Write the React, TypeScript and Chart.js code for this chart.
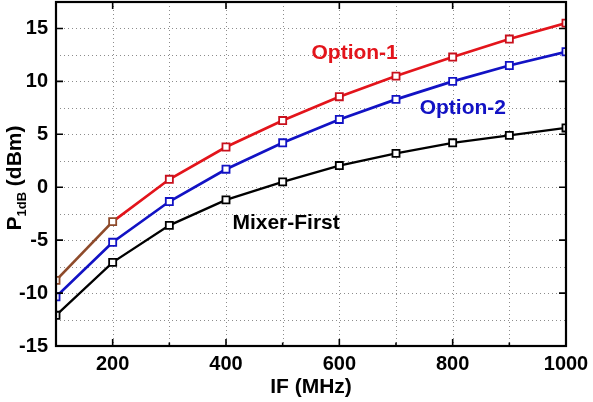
import { useEffect, useRef } from 'react';
import { Chart, registerables } from 'chart.js';

Chart.register(...registerables);

const frequencies = [100, 200, 300, 400, 500, 600, 700, 800, 900, 1000];
const option1 = [-8.8, -3.25, 0.75, 3.8, 6.3, 8.55, 10.5, 12.3, 14.0, 15.5];
const option2 = [-10.35, -5.2, -1.35, 1.7, 4.2, 6.4, 8.3, 10.0, 11.5, 12.8];
const mixerFirst = [-12.1, -7.1, -3.6, -1.2, 0.5, 2.05, 3.2, 4.2, 4.9, 5.6];

const seriesNames = ['Option-1', 'Option-2', 'Mixer-First'];
const seriesColors = ['#e3141b', '#1212c4', '#000000'];

const labelTexts = ['Option-1', 'Option-2', 'Mixer-First'];
const labelX = [627, 818, 506];
const labelY = [12.7, 7.45, -3.4];

const xTickLabels = [200, 400, 600, 800, 1000];
const yTickLabels = [-15, -10, -5, 0, 5, 10, 15];

const FONT = '"Liberation Sans", Arial, sans-serif';

export default function App() {
  const ref = useRef<HTMLCanvasElement | null>(null);

  useEffect(() => {
    document.body.style.margin = '0';
    const canvas = ref.current;
    if (!canvas) return;

    const seriesValues = [option1, option2, mixerFirst];

    const gridPlugin = {
      id: 'dottedGrid',
      beforeDatasetsDraw(chart: any) {
        const { ctx, chartArea, scales } = chart;
        const xs = scales.x;
        const ys = scales.y;
        ctx.save();
        ctx.strokeStyle = '#8c8c8c';
        ctx.lineWidth = 1;
        ctx.setLineDash([1, 3]);
        for (let v = 200; v < 1000; v += 100) {
          const px = Math.round(xs.getPixelForValue(v)) + 0.5;
          ctx.beginPath();
          ctx.moveTo(px, chartArea.top);
          ctx.lineTo(px, chartArea.bottom);
          ctx.stroke();
        }
        for (let v = -12.5; v < 17.5; v += 2.5) {
          const py = Math.round(ys.getPixelForValue(v)) + 0.5;
          ctx.beginPath();
          ctx.moveTo(chartArea.left, py);
          ctx.lineTo(chartArea.right, py);
          ctx.stroke();
        }
        ctx.restore();
      },
    };

    const overlay = {
      id: 'overlay',
      afterDraw(chart: any) {
        const { ctx, chartArea, scales } = chart;
        const xs = scales.x;
        const ys = scales.y;
        ctx.save();
        ctx.strokeStyle = '#000';
        ctx.lineWidth = 2.2;
        ctx.strokeRect(chartArea.left, chartArea.top, chartArea.right - chartArea.left, chartArea.bottom - chartArea.top);
        ctx.lineWidth = 1.6;
        for (let v = 200; v < 1000; v += 100) {
          const px = xs.getPixelForValue(v);
          const major = xTickLabels.includes(v);
          const len = major ? 7 : 3.5;
          ctx.beginPath();
          ctx.moveTo(px, chartArea.bottom);
          ctx.lineTo(px, chartArea.bottom - len);
          if (major) {
            ctx.moveTo(px, chartArea.top);
            ctx.lineTo(px, chartArea.top + 7);
          }
          ctx.stroke();
        }
        for (const v of yTickLabels) {
          if (v === -15) continue;
          const py = ys.getPixelForValue(v);
          ctx.beginPath();
          ctx.moveTo(chartArea.left, py);
          ctx.lineTo(chartArea.left + 7, py);
          ctx.moveTo(chartArea.right, py);
          ctx.lineTo(chartArea.right - 7, py);
          ctx.stroke();
        }
        ctx.font = `bold 21px ${FONT}`;
        ctx.textAlign = 'center';
        ctx.textBaseline = 'middle';
        labelTexts.forEach((t, i) => {
          ctx.fillStyle = seriesColors[i];
          ctx.fillText(t, xs.getPixelForValue(labelX[i]), ys.getPixelForValue(labelY[i]));
        });
        ctx.fillStyle = '#000';
        ctx.font = `bold 21px ${FONT}`;
        ctx.fillText('IF (MHz)', (chartArea.left + chartArea.right) / 2, 387);
        const cy = 178;
        ctx.translate(21, cy);
        ctx.rotate(-Math.PI / 2);
        ctx.textAlign = 'left';
        ctx.textBaseline = 'alphabetic';
        const big = `bold 21px ${FONT}`;
        const small = `bold 13px ${FONT}`;
        ctx.font = big;
        const wP = ctx.measureText('P').width;
        const wRest = ctx.measureText(' (dBm)').width;
        ctx.font = small;
        const wSub = ctx.measureText('1dB').width;
        let x0 = -(wP + wSub + wRest) / 2;
        ctx.font = big;
        ctx.fillText('P', x0, 0);
        x0 += wP;
        ctx.font = small;
        ctx.fillText('1dB', x0, 5);
        x0 += wSub;
        ctx.font = big;
        ctx.fillText(' (dBm)', x0, 0);
        ctx.restore();
      },
    };

    const chart = new Chart(canvas, {
      type: 'line',
      data: {
        datasets: seriesValues.map((vals, i) => ({
          label: seriesNames[i],
          data: frequencies.map((f, j) => ({ x: f, y: vals[j] })),
          borderColor: seriesColors[i],
          backgroundColor: '#ffffff',
          borderWidth: i === 2 ? 2.3 : 2.7,
          pointStyle: 'rect',
          pointRadius: 5,
          pointBorderWidth: 1.8,
          pointBorderColor: i === 0 ? frequencies.map((_, j) => (j <= 1 ? '#8e4a2a' : '#c8101c')) : seriesColors[i],
          pointBackgroundColor: '#ffffff',
          tension: 0,
          clip: 0,
          segment: i === 0 ? { borderColor: (c: any) => (c.p0DataIndex === 0 ? '#8e4a2a' : undefined) } : undefined,
        })),
      },
      options: {
        animation: false,
        responsive: false,
        layout: { autoPadding: false, padding: { top: 2, right: 27, left: 0, bottom: 0 } },
        plugins: { legend: { display: false }, tooltip: { enabled: false } },
        scales: {
          x: {
            type: 'linear',
            min: 100,
            max: 1000,
            afterFit: (s: any) => {
              s.height = 56;
              s.paddingLeft = 0;
              s.paddingRight = 0;
            },
            grid: { display: false, drawTicks: false },
            border: { display: false },
            ticks: {
              stepSize: 100,
              padding: 6,
              color: '#000',
              font: { family: FONT, size: 20, weight: 'bold' },
              maxRotation: 0,
              autoSkip: false,
              callback: (v: any) => (xTickLabels.includes(Number(v)) ? String(v) : ''),
            },
          },
          y: {
            type: 'linear',
            min: -15,
            max: 17.5,
            afterFit: (s: any) => {
              s.width = 56;
              s.paddingTop = 0;
              s.paddingBottom = 0;
            },
            grid: { display: false, drawTicks: false },
            border: { display: false },
            ticks: {
              stepSize: 2.5,
              padding: 8,
              color: '#000',
              font: { family: FONT, size: 20, weight: 'bold' },
              autoSkip: false,
              callback: (v: any) => (yTickLabels.includes(Number(v)) ? String(v) : ''),
            },
          },
        },
      },
      plugins: [gridPlugin, overlay],
    } as any);

    return () => chart.destroy();
  }, []);

  return (
    <div style={{ position: 'absolute', left: 0, top: 0, width: 593, height: 402, background: '#fff' }}>
      <canvas ref={ref} width={593} height={402} />
    </div>
  );
}
